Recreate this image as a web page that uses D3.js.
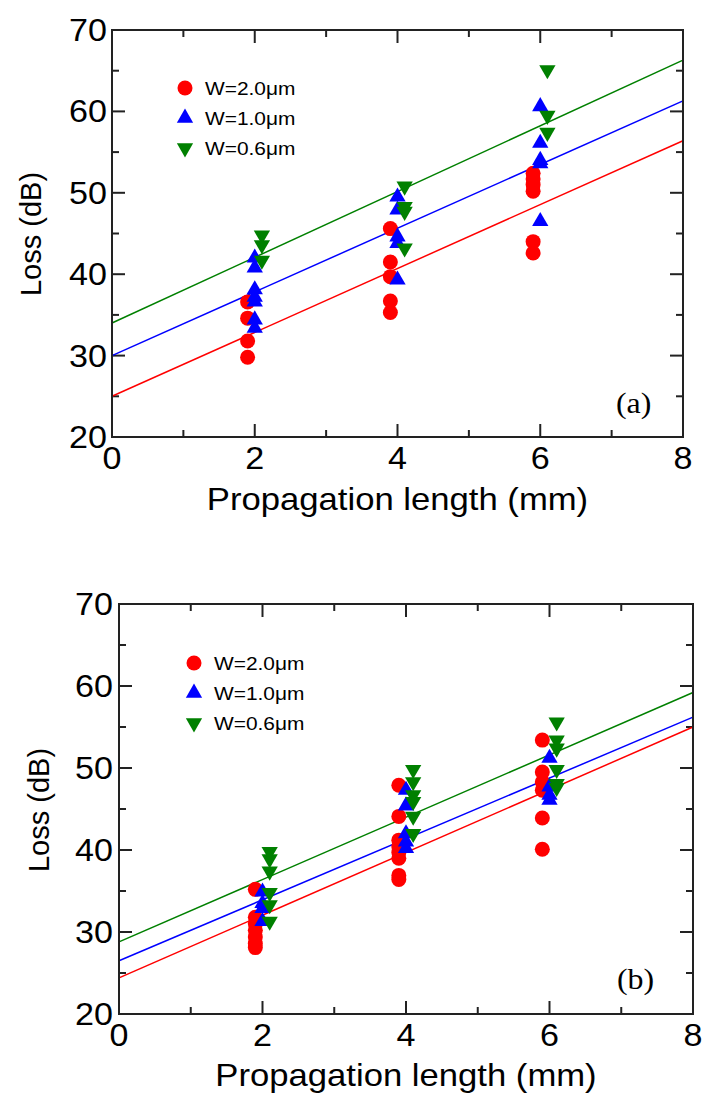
<!DOCTYPE html>
<html><head><meta charset="utf-8">
<script src="https://cdn.jsdelivr.net/npm/d3@7"></script>
<style>body{margin:0;background:#fff}svg{display:block}</style>
</head><body>
<svg id="chart" width="704" height="1095"></svg>
<script>
// ---- data ----
const xTicks = [0, 2, 4, 6, 8];
const yTicks = [20, 30, 40, 50, 60, 70];
const seriesNames = ["W=2.0\u03bcm", "W=1.0\u03bcm", "W=0.6\u03bcm"];
const seriesColors = ["#ff0000", "#0000ff", "#008000"];
const seriesShapes = ["circle", "up", "down"];

// panel (a)
const a_w20 = [[1.9,36.6],[1.9,34.6],[1.9,31.8],[1.9,29.8],
  [3.9,45.6],[3.9,41.5],[3.9,39.7],[3.9,36.7],[3.9,35.3],
  [5.9,52.4],[5.9,51.7],[5.9,51.0],[5.9,50.2],[5.9,44.0],[5.9,42.6]];
const a_w10 = [[2.0,42.0],[2.0,40.8],[2.0,38.1],[2.0,37.2],[2.0,36.6],[2.0,34.4],[2.0,33.4],
  [4.0,49.5],[4.0,47.9],[4.0,44.6],[4.0,43.8],[4.0,39.3],
  [6.0,60.6],[6.0,56.1],[6.0,54.0],[6.0,53.6],[6.0,46.5]];
const a_w06 = [[2.1,44.8],[2.1,43.6],[2.1,41.7],
  [4.1,50.8],[4.1,48.3],[4.1,47.7],[4.1,43.2],
  [6.1,65.1],[6.1,59.5],[6.1,57.4]];
const a_fit = [[25.0,56.4],[30.0,61.3],[34.0,66.3]]; // loss at x=0 and x=8

// panel (b)
const b_w20 = [[1.9,35.2],[1.9,31.8],[1.9,31.0],[1.9,30.2],[1.9,29.4],[1.9,28.6],[1.9,28.1],
  [3.9,47.9],[3.9,44.1],[3.9,41.2],[3.9,40.4],[3.9,39.7],[3.9,39.0],[3.9,36.9],[3.9,36.4],
  [5.9,53.4],[5.9,49.5],[5.9,48.3],[5.9,47.3],[5.9,43.9],[5.9,40.1]];
const b_w10 = [[2.0,34.9],[2.0,33.5],[2.0,32.9],[2.0,31.3],
  [4.0,47.3],[4.0,45.4],[4.0,42.0],[4.0,41.0],[4.0,40.2],
  [6.0,51.2],[6.0,47.7],[6.0,46.7],[6.0,46.1]];
const b_w06 = [[2.1,39.8],[2.1,38.9],[2.1,37.4],[2.1,34.8],[2.1,33.3],[2.1,31.3],
  [4.1,49.8],[4.1,48.3],[4.1,46.7],[4.1,45.9],[4.1,44.1],[4.1,42.0],
  [6.1,55.6],[6.1,53.4],[6.1,52.4],[6.1,49.8],[6.1,48.1],[6.1,47.6]];
const b_fit = [[24.4,55.0],[26.5,56.2],[28.8,59.2]];

const fitX = [0, 8];

// ---- drawing ----
const svg = d3.select("#chart");
const SX = 1.1; // horizontal text stretch of the original

function hText(g, x, y, str, size, anchor, family) {
  return g.append("text")
    .attr("transform", `translate(${x},${y}) scale(${SX},1)`)
    .attr("font-family", family || "'Liberation Sans', Arial, sans-serif")
    .attr("font-size", size)
    .attr("text-anchor", anchor || "start")
    .attr("fill", "#000")
    .text(str);
}

function marker(shape) {
  if (shape === "circle") return {d: d3.symbol(d3.symbolCircle, Math.PI*7.5*7.5)(), rot: 0};
  const d = d3.symbol(d3.symbolTriangle, 115)();
  return {d, rot: shape === "down" ? 180 : 0};
}

function drawPanel(cfg) {
  const g = svg.append("g");
  const x = d3.scaleLinear().domain([0, 8]).range([cfg.left, cfg.right]);
  const y = d3.scaleLinear().domain([20, 70]).range([cfg.bottom, cfg.top]);
  const axisColor = "#222";

  const xMinor = d3.range(1, 8, 2);
  const yMinor = d3.range(25, 70, 10);
  const tg = g.append("g").attr("stroke", axisColor).attr("stroke-width", 2);
  const maj = 13, mnr = 7;
  xTicks.forEach(v => {
    tg.append("line").attr("x1", x(v)).attr("x2", x(v)).attr("y1", cfg.bottom).attr("y2", cfg.bottom - maj);
    tg.append("line").attr("x1", x(v)).attr("x2", x(v)).attr("y1", cfg.top).attr("y2", cfg.top + maj);
  });
  xMinor.forEach(v => {
    tg.append("line").attr("x1", x(v)).attr("x2", x(v)).attr("y1", cfg.bottom).attr("y2", cfg.bottom - mnr);
    tg.append("line").attr("x1", x(v)).attr("x2", x(v)).attr("y1", cfg.top).attr("y2", cfg.top + mnr);
  });
  yTicks.forEach(v => {
    tg.append("line").attr("y1", y(v)).attr("y2", y(v)).attr("x1", cfg.left).attr("x2", cfg.left + maj);
    tg.append("line").attr("y1", y(v)).attr("y2", y(v)).attr("x1", cfg.right).attr("x2", cfg.right - maj);
  });
  yMinor.forEach(v => {
    tg.append("line").attr("y1", y(v)).attr("y2", y(v)).attr("x1", cfg.left).attr("x2", cfg.left + mnr);
    tg.append("line").attr("y1", y(v)).attr("y2", y(v)).attr("x1", cfg.right).attr("x2", cfg.right - mnr);
  });

  const line = d3.line().x(d => x(d[0])).y(d => y(d[1]));
  cfg.fit.forEach((f, i) => {
    g.append("path").attr("d", line(fitX.map((xv, k) => [xv, f[k]])))
      .attr("fill", "none").attr("stroke", seriesColors[i]).attr("stroke-width", 1.5);
  });

  cfg.series.forEach((pts, i) => {
    const m = marker(seriesShapes[i]);
    g.append("g").selectAll("path").data(pts).join("path")
      .attr("d", m.d)
      .attr("transform", d => `translate(${x(d[0])},${y(d[1])}) rotate(${m.rot})`)
      .attr("fill", seriesColors[i]);
  });

  g.append("rect").attr("x", cfg.left).attr("y", cfg.top)
    .attr("width", cfg.right - cfg.left).attr("height", cfg.bottom - cfg.top)
    .attr("fill", "none").attr("stroke", axisColor).attr("stroke-width", 2);

  yTicks.forEach(v => hText(g, cfg.left - cfg.yLabOff, y(v) + 11, String(v), 31, "end"));
  xTicks.forEach(v => hText(g, x(v), cfg.bottom + 32, String(v), 31, "middle"));

  hText(g, (cfg.left + cfg.right) / 2, cfg.xTitleY, "Propagation length (mm)", 31.5, "middle");
  g.append("text")
    .attr("transform", `translate(${cfg.yTitleX},${cfg.yTitleY}) rotate(-90)`)
    .attr("font-family", "'Liberation Sans', Arial, sans-serif")
    .attr("font-size", 29).attr("text-anchor", "middle").text("Loss (dB)");

  seriesNames.forEach((name, i) => {
    const ly = cfg.legY + i * cfg.legStep;
    const m = marker(seriesShapes[i]);
    g.append("path").attr("d", m.d)
      .attr("transform", `translate(${cfg.legX},${ly}) rotate(${m.rot})`)
      .attr("fill", seriesColors[i]);
    hText(g, cfg.legX + 20, ly + 7, name, 19, "start");
  });

  hText(g, cfg.labX, cfg.labY, cfg.label, 29, "start", "'Liberation Serif', 'Times New Roman', serif");
}

drawPanel({left: 112, right: 683, top: 30, bottom: 437,
  series: [a_w20, a_w10, a_w06], fit: a_fit,
  yLabOff: 5, xTitleY: 510, yTitleX: 41, yTitleY: 234,
  legX: 185, legY: 88, legStep: 30, label: "(a)", labX: 616, labY: 413});

drawPanel({left: 119, right: 693, top: 604, bottom: 1014,
  series: [b_w20, b_w10, b_w06], fit: b_fit,
  yLabOff: 6, xTitleY: 1086, yTitleX: 49, yTitleY: 810,
  legX: 194, legY: 663, legStep: 30, label: "(b)", labX: 617, labY: 989});
</script>
</body></html>
